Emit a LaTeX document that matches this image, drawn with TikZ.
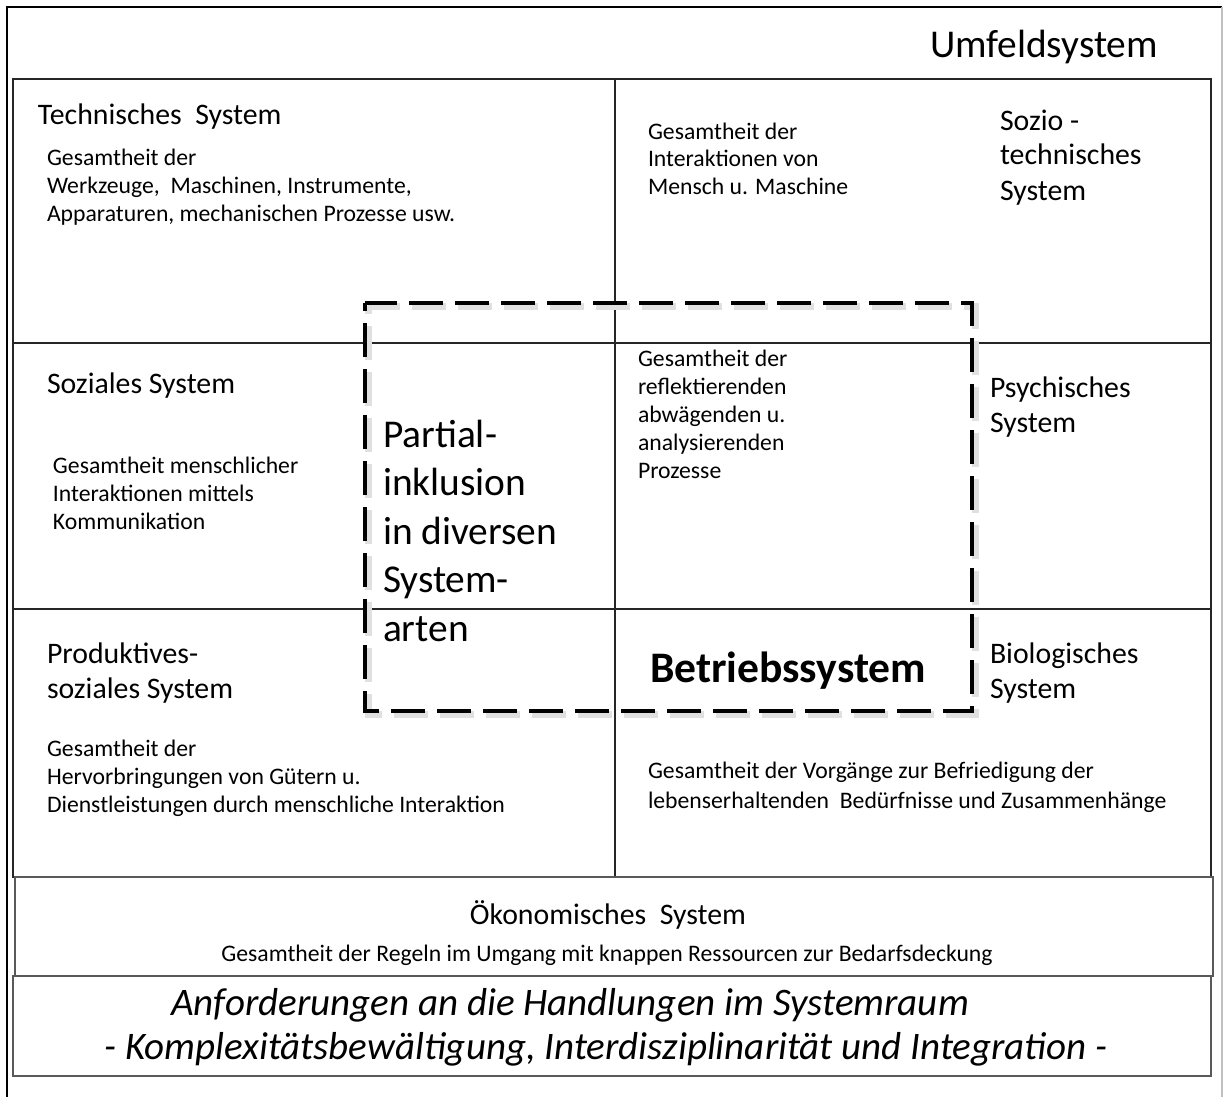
\documentclass[tikz,border=0pt]{standalone}
\usepackage{fontspec}
\setmainfont{Carlito}
\usetikzlibrary{positioning,calc}
\tikzset{%
    % Specifications for style of nodes:
    plain/.style = {inner sep=0pt, outer sep=0pt},
    base/.style = {plain, anchor=base west, align=left},
    small/.style = {base, font=\fontsize{11.85}{14}\selectfont},
    title/.style = {base, font=\fontsize{14.9}{17.5}\selectfont},
    big/.style = {base, font=\fontsize{19.7}{24.2}\selectfont},
    % Specifications for style of lines:
    frame/.style = {draw=black, line width=1pt},
    cell/.style = {draw=black!85, line width=0.9pt},
    eco/.style = {draw=black!65, line width=1.3pt},
    incl/.style = {draw=black, line width=2pt, dash pattern=on 17pt off 6pt, dash phase=13pt},
    inclshadow/.style = {incl, draw=black!12, line width=3.5pt}
}

\begin{document}
\begin{tikzpicture}[x=0.5pt, y=-0.5pt]
    \useasboundingbox (0,0) rectangle (1227,1097);
    % outer frame
    \draw[frame] (7,1097) -- (7,7) -- (1222,7);
    \draw[draw=black!25, line width=0.6pt] (1222,7) -- (1222,1097);
    % grid of the system space
    \coordinate (NW) at (13,79);
    \coordinate (SE) at (1211,877);
    \draw[cell] (NW) rectangle (SE);
    \draw[cell] (13,343) -- (1211,343);
    \draw[cell] (13,609) -- (1211,609);
    \draw[cell] (615,79) -- (615,877);
    % economic and bottom box
    \draw[eco] (15,877) rectangle (1213,976);
    \draw[draw=black!65, line width=0.8pt] (13,976) rectangle (1211,1076);
    % dashed inclusion box
    \draw[inclshadow] (368,306) rectangle (975,714);
    \draw[incl] (365,303) rectangle (972,711);

    % base west = baseline of the last line
    \node[big] (U) at (930,58) {Umfeldsystem};

    \node[title] (T1) at (38,125) {Technisches\ \ System};
    \node[small] (D1) at (47,221) {Gesamtheit der\\Werkzeuge,\ \ Maschinen, Instrumente,\\Apparaturen, mechanischen Prozesse usw.};
    \node[small] (D2) at (648,195) {Gesamtheit der\\Interaktionen von\\Mensch u. Maschine};
    \node[title] (T2) at (1000,200) {Sozio -\\technisches\\System};

    \node[title] (T3) at (47,393) {Soziales System};
    \node[small] (D3) at (53,529) {Gesamtheit menschlicher\\Interaktionen mittels\\Kommunikation};
    \node[big] (P) at (383,641) {Partial-\\inklusion\\in diversen\\System-\\arten};
    \node[small] (D4) at (638,478) {Gesamtheit der\\reflektierenden\\abwägenden u.\\analysierenden\\Prozesse};
    \node[title] (T4) at (990,432) {Psychisches\\System};

    \node[title] (T5) at (47,698) {Produktives-\\soziales System};
    \node[big, font=\fontsize{21.8}{24}\selectfont\bfseries] (B) at (650,682) {Betriebssystem};
    \node[title] (T6) at (990,698) {Biologisches\\System};
    \node[small] (D5) at (47,812) {Gesamtheit der\\Hervorbringungen von Gütern u.\\Dienstleistungen durch menschliche Interaktion};
    \node[small, font=\fontsize{11.85}{15}\selectfont] (D6) at (648,808) {Gesamtheit der Vorgänge zur Befriedigung der\\lebenserhaltenden\ \ Bedürfnisse und Zusammenhänge};

    \node[title, anchor=base] (T7) at (608,924) {Ökonomisches\ \ System};
    \node[small, anchor=base] (D7) at (607,961) {Gesamtheit der Regeln im Umgang mit knappen Ressourcen zur Bedarfsdeckung};

    \node[big, anchor=base, font=\fontsize{19.5}{24}\selectfont\itshape] (R1) at (570,1015) {Anforderungen an die Handlungen im Systemraum};
    \node[big, anchor=base, font=\fontsize{19.5}{24}\selectfont\itshape] (R2) at (606,1059) {- Komplexitätsbewältigung, Interdisziplinarität und Integration -};
\end{tikzpicture}
\end{document}
